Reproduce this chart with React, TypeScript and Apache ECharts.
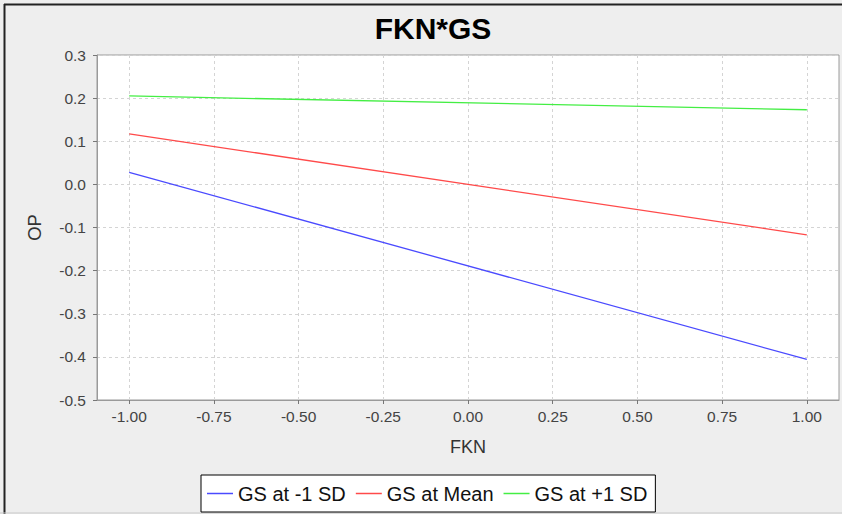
import React, { useEffect, useRef } from "react";
import * as echarts from "echarts";

const xValues = [-1, 1];
const seriesNames = ["GS at -1 SD", "GS at Mean", "GS at +1 SD"];
const lowValues = [0.028, -0.406];
const meanValues = [0.117, -0.117];
const highValues = [0.205, 0.173];
const xTicks = [-1, -0.75, -0.5, -0.25, 0, 0.25, 0.5, 0.75, 1];
const colors = ["#4a4aff", "#ff4a4a", "#44ee44"];

export default function App() {
  const ref = useRef<HTMLDivElement>(null);
  useEffect(() => {
    if (!ref.current) return;
    const chart = echarts.init(ref.current, null, { renderer: "svg" });
    const all = [lowValues, meanValues, highValues];
    const font = "'Liberation Sans', Arial, sans-serif";
    chart.setOption({
      animation: false,
      backgroundColor: "#eeeeee",
      textStyle: { fontFamily: font },
      title: {
        text: "FKN*GS",
        left: 428,
        top: 8,
        textAlign: "center",
        textStyle: { fontFamily: font, fontSize: 30, fontWeight: "bold", color: "#000" },
      },
      graphic: [
        { type: "line", shape: { x1: 4.5, y1: 4, x2: 4.5, y2: 514 }, style: { stroke: "#222", lineWidth: 2 } },
        { type: "line", shape: { x1: 4, y1: 4.5, x2: 842, y2: 4.5 }, style: { stroke: "#222", lineWidth: 2 } },
        { type: "line", shape: { x1: 0, y1: 513, x2: 842, y2: 513 }, style: { stroke: "#c8c8c8", lineWidth: 1 } },
      ],
      grid: {
        left: 97,
        right: 3,
        top: 55,
        bottom: 114,
        show: true,
        backgroundColor: "#ffffff",
        borderColor: "#9a9a9a",
        borderWidth: 1,
      },
      legend: {
        left: 201,
        top: 475,
        backgroundColor: "#ffffff",
        borderColor: "#000000",
        borderWidth: 1,
        padding: [8, 8, 8, 6],
        icon: "rect",
        itemWidth: 26,
        itemHeight: 1.5,
        itemGap: 10,
        data: seriesNames,
        textStyle: { fontFamily: font, fontSize: 20, lineHeight: 21, color: "#111" },
      },
      xAxis: {
        type: "value",
        min: -1.095,
        max: 1.095,
        name: "FKN",
        nameLocation: "middle",
        nameGap: 38,
        nameTextStyle: { fontFamily: font, fontSize: 18, color: "#333" },
        axisLine: { show: true, onZero: false, lineStyle: { color: "#9a9a9a" } },
        axisTick: { show: true, length: 4, lineStyle: { color: "#777" }, customValues: xTicks },
        axisLabel: {
          customValues: xTicks,
          formatter: (v: number) => v.toFixed(2),
          fontSize: 15.5,
          color: "#444",
          margin: 8,
          fontFamily: font,
        },
        splitLine: { show: true, lineStyle: { color: "#d4d4d4", type: [3, 3] } },
      },
      yAxis: {
        type: "value",
        min: -0.5,
        max: 0.3,
        interval: 0.1,
        name: "OP",
        nameLocation: "middle",
        nameRotate: 90,
        nameGap: 53,
        nameTextStyle: { fontFamily: font, fontSize: 18.5, color: "#333" },
        axisLine: { show: true, onZero: false, lineStyle: { color: "#9a9a9a" } },
        axisTick: { show: true, length: 4, lineStyle: { color: "#777" } },
        axisLabel: {
          formatter: (v: number) => (Math.abs(v) < 1e-9 ? 0 : v).toFixed(1),
          fontSize: 15.5,
          color: "#444",
          margin: 11,
          fontFamily: font,
        },
        splitLine: { show: true, lineStyle: { color: "#d4d4d4", type: [3, 3] } },
      },
      series: seriesNames.map((name, i) => ({
        name,
        type: "line",
        symbol: "none",
        color: colors[i],
        lineStyle: { width: 1.3, color: colors[i] },
        data: xValues.map((x, j) => [x, all[i][j]]),
      })),
    });
    return () => chart.dispose();
  }, []);
  return (
    <div
      ref={ref}
      style={{ position: "fixed", left: 0, top: 0, width: 842, height: 514 }}
    />
  );
}
